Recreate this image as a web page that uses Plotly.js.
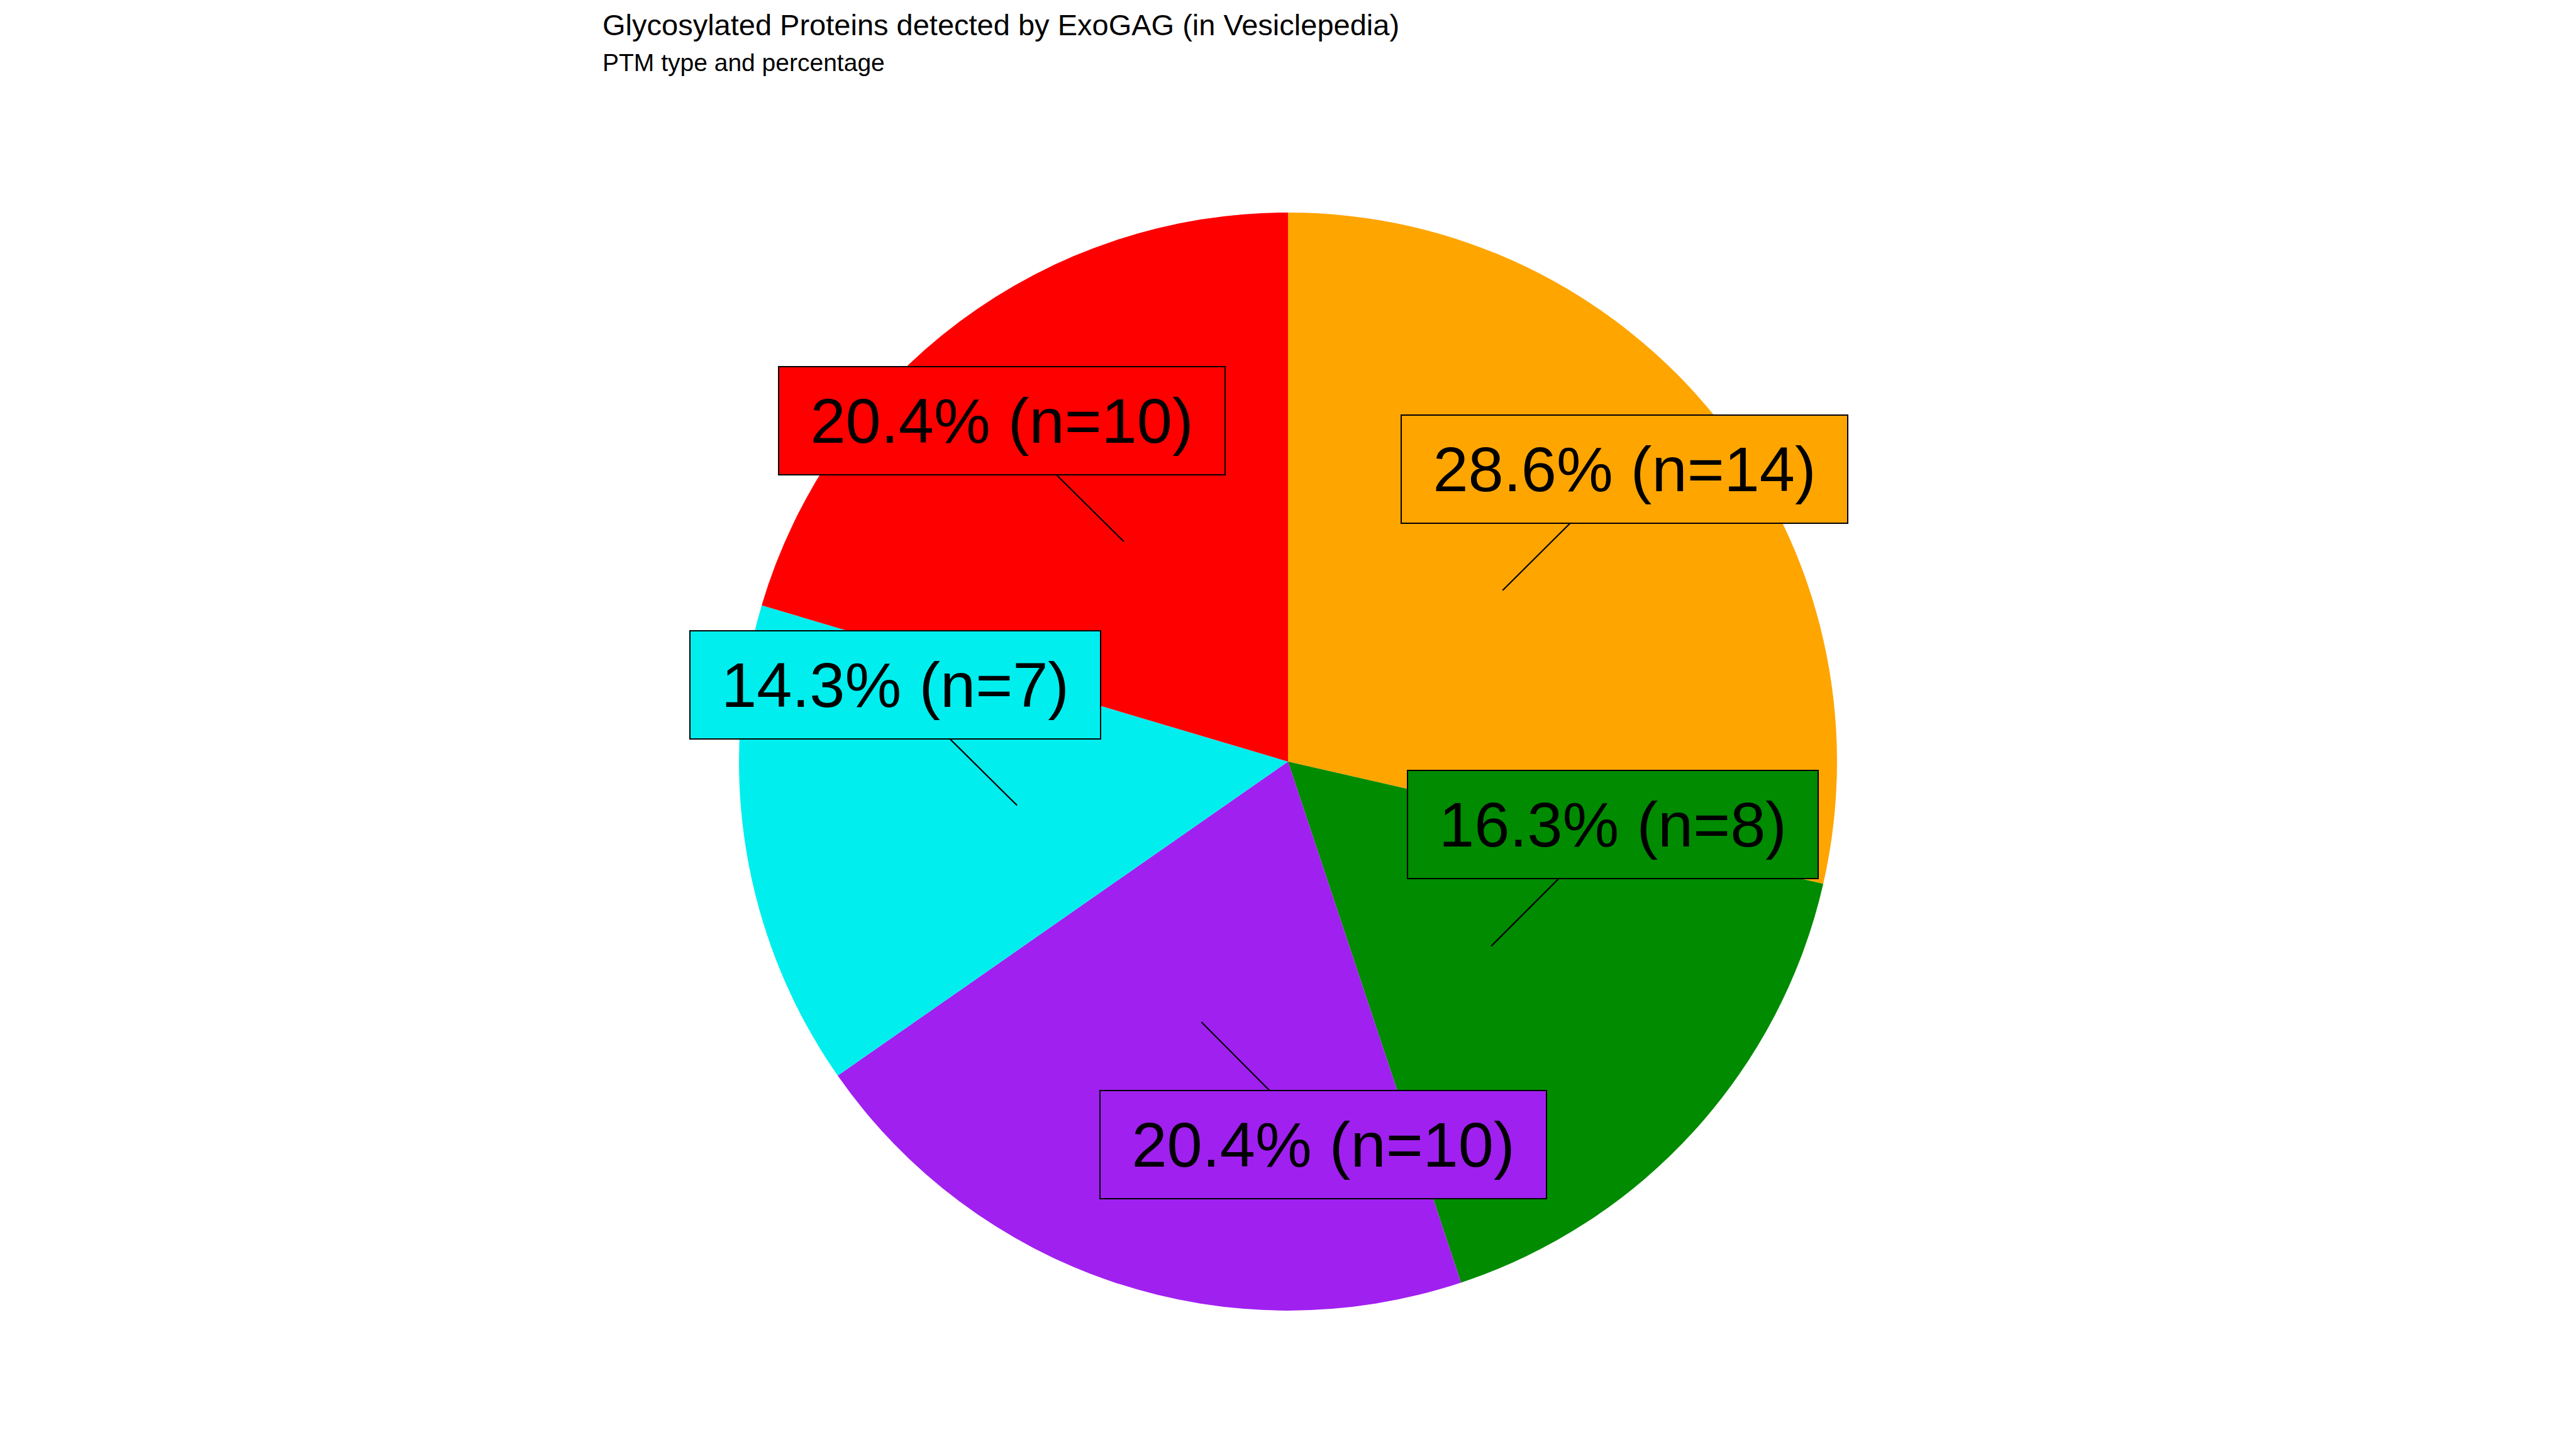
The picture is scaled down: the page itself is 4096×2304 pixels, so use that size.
<!DOCTYPE html>
<html>
<head>
<meta charset="utf-8">
<script src="https://cdn.plot.ly/plotly-3.0.1.min.js"></script>
<style>
  html, body { margin: 0; padding: 0; background: #ffffff; }
  #chart { width: 4096px; height: 2304px; }
</style>
</head>
<body>
<div id="chart"></div>
<script>
// ---- data ----
const categories = ["PTM type 1", "PTM type 2", "PTM type 3", "PTM type 4", "PTM type 5"];
const counts = [14, 8, 10, 7, 10];
const sliceColors = ["#FFA500", "#008B00", "#A020F0", "#00EEEE", "#FF0000"];
const titleText = "Glycosylated Proteins detected by ExoGAG (in Vesiclepedia)";
const subtitleText = "PTM type and percentage";

// ---- layout / styling ----
const W = 4096, H = 2304;
const domX = [0.28687, 0.71313];
const domY = [0.09553, 0.85334];
const radiusPx = (domX[1] - domX[0]) * W / 2;
const cx = (domX[0] + domX[1]) / 2;
const cy = (domY[0] + domY[1]) / 2;
const FONT = "Liberation Sans, Arial, Helvetica, sans-serif";

// label box offsets (pixels from anchor point)
const labelOffsets = [[194, -193], [193, -193], [194, 195], [-194, -192], [-194, -192]];

const total = counts.reduce((a, b) => a + b, 0);
const annotations = [];
let cum = 0;
counts.forEach((v, i) => {
  const mid = (cum + v / 2) / total;
  cum += v;
  const theta = mid * 2 * Math.PI;
  const r = 0.5 * radiusPx;
  const xp = cx + r * Math.sin(theta) / W;
  const yp = cy + r * Math.cos(theta) / H;
  const label = (v / total * 100).toFixed(1) + "% (n=" + v + ")";
  annotations.push({
    xref: "paper", yref: "paper",
    x: xp, y: yp,
    text: label,
    showarrow: true,
    arrowhead: 0,
    arrowwidth: 2.2,
    arrowcolor: "#000000",
    standoff: 0,
    ax: labelOffsets[i][0],
    ay: labelOffsets[i][1],
    font: { family: FONT, size: 101, color: "#000000" },
    bgcolor: sliceColors[i],
    bordercolor: "#000000",
    borderwidth: 2,
    borderpad: 29,
    width: label.length >= 12 ? 650 : 593,
    align: "center"
  });
});

annotations.push({
  xref: "paper", yref: "paper",
  x: 957 / W, y: 1 - 12 / H,
  xanchor: "left", yanchor: "top",
  text: titleText, showarrow: false,
  font: { family: FONT, size: 47, color: "#000000" },
  borderpad: 0
});
annotations.push({
  xref: "paper", yref: "paper",
  x: 957 / W, y: 1 - 77 / H,
  xanchor: "left", yanchor: "top",
  text: subtitleText, showarrow: false,
  font: { family: FONT, size: 39, color: "#000000" },
  borderpad: 0
});

const trace = {
  type: "pie",
  labels: categories,
  values: counts,
  sort: false,
  direction: "clockwise",
  rotation: 0,
  textinfo: "none",
  hoverinfo: "label+value+percent",
  marker: { colors: sliceColors, line: { width: 0 } },
  domain: { x: domX, y: domY },
  showlegend: false
};

const layout = {
  width: W, height: H,
  margin: { l: 0, r: 0, t: 0, b: 0, pad: 0 },
  paper_bgcolor: "#ffffff",
  plot_bgcolor: "#ffffff",
  showlegend: false,
  annotations: annotations,
  font: { family: FONT }
};

Plotly.newPlot("chart", [trace], layout, { displayModeBar: false, staticPlot: true });
</script>
</body>
</html>
